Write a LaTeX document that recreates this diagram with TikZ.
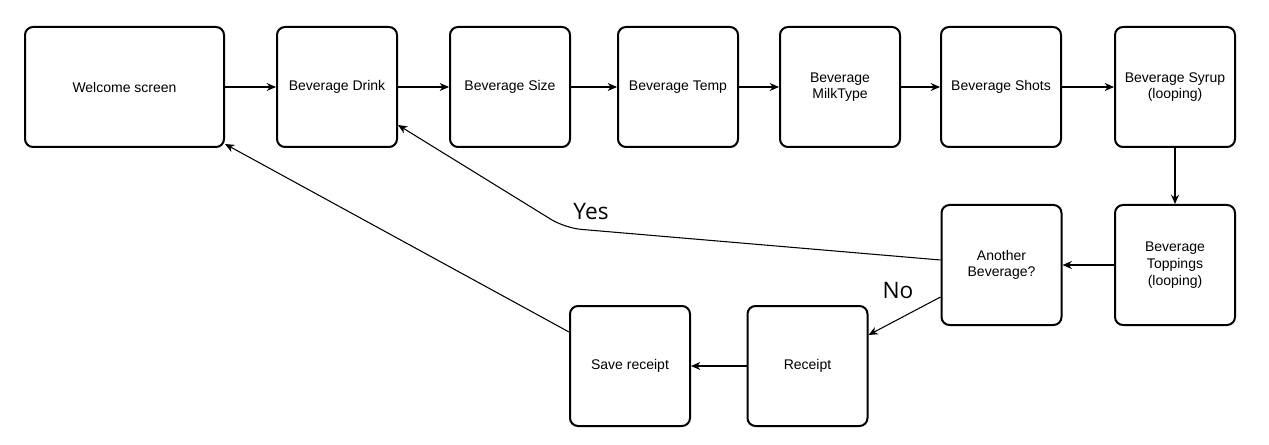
\documentclass[tikz,border=0pt]{standalone}
\usepackage{fontspec}
\setmainfont{Liberation Sans}
\newfontfamily\labelfont{Open Sans}
\usetikzlibrary{arrows.meta}

\tikzset{
  screen/.style={draw,line width=1.5pt,rounded corners=6pt,minimum width=90pt,minimum height=90pt,
    align=center,font=\fontsize{10.5}{12.5}\selectfont,inner sep=2pt},
  flow/.style={-{Stealth[length=7pt,width=6pt]},line width=0.8pt},
  answer/.style={font=\labelfont\fontsize{17}{20}\selectfont}
}

\begin{document}
\begin{tikzpicture}[x=0.75pt,y=-0.75pt]
\useasboundingbox (0,0) rectangle (1269,445);

\node[screen,minimum width=149.25pt] (welcome) at (124.5,87) {Welcome screen};
\node[screen] (drink) at (337,87) {Beverage Drink};
\node[screen] (size) at (510,87) {Beverage Size};
\node[screen] (temp) at (678,87) {Beverage Temp};
\node[screen] (milk) at (840,87) {Beverage\\MilkType};
\node[screen] (shots) at (1001,87) {Beverage Shots};
\node[screen] (syrup) at (1175,87) {Beverage Syrup\\(looping)};
\node[screen] (toppings) at (1175,265) {Beverage\\Toppings\\(looping)};
\node[screen] (another) at (1001.5,265) {Another\\Beverage?};
\node[screen] (receipt) at (807.5,366) {Receipt};
\node[screen] (save) at (630,366) {Save receipt};

\coordinate (bend) at (565,228);

\draw[flow] (welcome) -- (drink);
\draw[flow] (drink) -- (size);
\draw[flow] (size) -- (temp);
\draw[flow] (temp) -- (milk);
\draw[flow] (milk) -- (shots);
\draw[flow] (shots) -- (syrup);
\draw[flow] (syrup) -- (toppings);
\draw[flow] (toppings) -- (another);
\draw[flow,rounded corners=12pt] ([yshift=3.75pt]another.west) -- (bend) -- ([yshift=-28.5pt]drink.east);
\draw[flow] ([yshift=-24pt]another.west) -- ([yshift=23.25pt]receipt.east);
\draw[flow] (receipt) -- (save);
\draw[flow] ([yshift=25.5pt]save.west) -- ([yshift=3pt]welcome.south east);

\node[answer] (yes) at (591,212) {Yes};
\node[answer] (no) at (898,291) {No};
\end{tikzpicture}
\end{document}
